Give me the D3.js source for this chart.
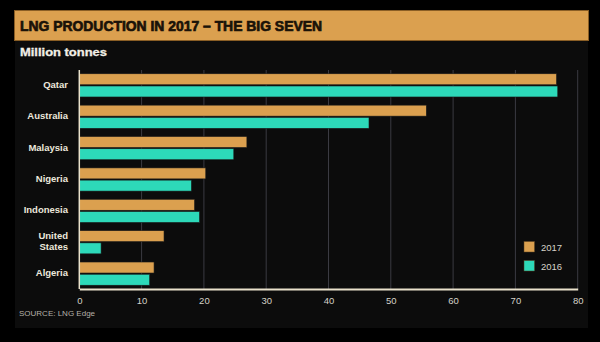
<!DOCTYPE html>
<html>
<head>
<meta charset="utf-8">
<script src="https://cdn.jsdelivr.net/npm/d3@7"></script>
<style>
  html, body { margin: 0; padding: 0; background: #000; }
  svg { display: block; }
</style>
</head>
<body>
<svg id="chart" width="600" height="342"></svg>
<script>
// LNG production by country, million tonnes
const countries = ["Qatar", "Australia", "Malaysia", "Nigeria", "Indonesia", "United States", "Algeria"];
const values2017 = [76.6, 55.7, 26.9, 20.3, 18.5, 13.6, 12.0];
const values2016 = [76.8, 46.5, 24.8, 18.0, 19.3, 3.5, 11.3];
const seriesNames = ["2017", "2016"];
const seriesColors = ["#dba04f", "#2dd9b9"];
const xTicks = [0, 10, 20, 30, 40, 50, 60, 70, 80];

const svg = d3.select("#chart");

// dark panel
svg.append("rect").attr("x", 15).attr("y", 10).attr("width", 573).attr("height", 318)
  .attr("fill", "#0c0c0c");

// title banner
svg.append("rect").attr("x", 14.5).attr("y", 10.5).attr("width", 574).attr("height", 30)
  .attr("fill", "#dba04f").attr("stroke", "#8a5e25").attr("stroke-width", 1);
svg.append("text").attr("x", 20).attr("y", 26).attr("dominant-baseline", "central")
  .attr("font-family", "Liberation Sans, Arial, sans-serif").attr("font-weight", 900)
  .attr("font-size", 14.5).attr("fill", "#1a1208")
  .attr("stroke", "#1a1208").attr("stroke-width", 0.7)
  .attr("textLength", 302).attr("lengthAdjust", "spacingAndGlyphs")
  .text("LNG PRODUCTION IN 2017 – THE BIG SEVEN");

svg.append("text").attr("x", 20).attr("y", 52).attr("dominant-baseline", "central")
  .attr("font-family", "Liberation Sans, Arial, sans-serif").attr("font-weight", 700)
  .attr("font-size", 11).attr("fill", "#f2efe6")
  .attr("stroke", "#f2efe6").attr("stroke-width", 0.3)
  .attr("textLength", 87).attr("lengthAdjust", "spacingAndGlyphs")
  .text("Million tonnes");

const plotLeft = 79.3, plotRight = 577.7, plotTop = 70, plotBottom = 289;

const x = d3.scaleLinear().domain([0, 80]).range([plotLeft, plotRight]);
const y = d3.scaleBand().domain(countries).range([plotTop, plotBottom]).paddingInner(0.26).paddingOuter(0.12);
const ySub = d3.scaleBand().domain(seriesNames).range([0, y.bandwidth()]).paddingInner(0.1);

// gridlines
svg.append("g").selectAll("line").data(xTicks.filter(d => d > 0)).join("line")
  .attr("x1", d => x(d)).attr("x2", d => x(d)).attr("y1", plotTop).attr("y2", plotBottom)
  .attr("stroke", "#3b3b42").attr("stroke-width", 1);

// bars
const rows = countries.map((c, i) => ({ country: c, vals: [values2017[i], values2016[i]] }));
const groups = svg.append("g").selectAll("g").data(rows).join("g")
  .attr("transform", d => `translate(0,${y(d.country)})`);
groups.selectAll("rect").data(d => d.vals.map((v, j) => ({ v, s: seriesNames[j], c: seriesColors[j] })))
  .join("rect")
  .attr("x", x(0)).attr("y", d => ySub(d.s))
  .attr("width", d => x(d.v) - x(0)).attr("height", ySub.bandwidth())
  .attr("fill", d => d.c).attr("stroke", "#1a1a1a").attr("stroke-width", 0.6);

// axis lines
svg.append("line").attr("x1", plotLeft).attr("x2", plotLeft).attr("y1", plotTop).attr("y2", plotBottom)
  .attr("stroke", "#e9e1cb").attr("stroke-width", 1.5);

const xAxis = d3.axisBottom(x).tickValues(xTicks).tickSize(0).tickPadding(8);
const gx = svg.append("g").attr("transform", `translate(0,${plotBottom})`).call(xAxis);
gx.select(".domain").attr("stroke", "#e9e1cb").attr("stroke-width", 2.2);
gx.selectAll("text").attr("fill", "#d6d2c8").attr("font-size", 9.5)
  .attr("font-family", "Liberation Sans, Arial, sans-serif");

// country labels
const labels = svg.append("g").selectAll("text").data(countries).join("text")
  .attr("x", 68).attr("text-anchor", "end")
  .attr("font-family", "Liberation Sans, Arial, sans-serif").attr("font-weight", 700)
  .attr("font-size", 9.5).attr("fill", "#ece8dc");
labels.each(function (d) {
  const t = d3.select(this);
  const cy = y(d) + y.bandwidth() / 2 - 1;
  const parts = d === "United States" ? ["United", "States"] : [d];
  parts.forEach((p, i) => {
    t.append("tspan").attr("x", 68)
      .attr("y", cy + (i - (parts.length - 1) / 2) * 11)
      .attr("dominant-baseline", "central").text(p);
  });
});

// legend
const legend = svg.append("g").selectAll("g").data(seriesNames).join("g")
  .attr("transform", (d, i) => `translate(524,${241.5 + i * 19})`);
legend.append("rect").attr("width", 10.5).attr("height", 10.5)
  .attr("fill", (d, i) => seriesColors[i]).attr("stroke", "#5a4020").attr("stroke-width", 0.5);
legend.append("text").attr("x", 17).attr("y", 5.5).attr("dominant-baseline", "central")
  .attr("font-family", "Liberation Sans, Arial, sans-serif").attr("font-size", 9.5)
  .attr("fill", "#d6d2c8").text(d => d);

// source
svg.append("text").attr("x", 19).attr("y", 313).attr("dominant-baseline", "central")
  .attr("font-family", "Liberation Sans, Arial, sans-serif").attr("font-size", 8)
  .attr("fill", "#b5b1a8").text("SOURCE: LNG Edge");
</script>
</body>
</html>
